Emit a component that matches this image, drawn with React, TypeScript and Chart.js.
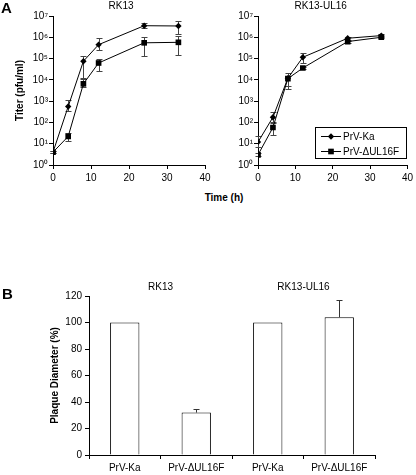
import React, { useEffect, useRef } from 'react';
import { Chart, registerables } from 'chart.js';

Chart.register(...registerables);

const FONT_FAMILY = "'Liberation Sans', Arial, Helvetica, sans-serif";

// ---------- Panel A data ----------
const timeHours = [0, 4, 8, 12, 24, 33];
const timeTicks = [0, 10, 20, 30, 40];
const titerTicks = [1, 10, 100, 1000, 10000, 100000, 1000000, 10000000];
const titerTickLabels = ['10⁰', '10¹', '10²', '10³', '10⁴', '10⁵', '10⁶', '10⁷'];
const seriesNames = ['PrV-Ka', 'PrV-ΔUL16F'];
const panelATitles = ['RK13', 'RK13-UL16'];

// RK13 cells
const rk13Ka = [4, 560, 75000, 450000, 3500000, 3400000];
const rk13KaLo = [3.6, 350, 12000, 250000, 2600000, 1500000];
const rk13KaHi = [4.5, 1150, 130000, 900000, 4800000, 6000000];
const rk13Del = [4, 22, 6500, 62000, 550000, 580000];
const rk13DelLo = [3.6, 13, 4500, 26000, 130000, 150000];
const rk13DelHi = [4.5, 32, 11000, 93000, 1000000, 1150000];

// RK13-UL16 cells
const ul16Ka = [12, 175, 12000, 115000, 900000, 1200000];
const ul16KaLo = [7, 100, 5000, 60000, 750000, 1000000];
const ul16KaHi = [22, 320, 21000, 180000, 1000000, 1500000];
const ul16Del = [3, 58, 11500, 36000, 630000, 1000000];
const ul16DelLo = [2.6, 27, 3900, 32000, 550000, 900000];
const ul16DelHi = [3.5, 92, 15000, 40000, 700000, 1100000];

// ---------- Panel B data ----------
const plaqueLabels = ['PrV-Ka', 'PrV-ΔUL16F', 'PrV-Ka', 'PrV-ΔUL16F'];
const plaqueValues = [100, 32, 100, 104];
const plaqueErrHi = [null, 35, null, 117];
const plaqueGroups = ['RK13', 'RK13-UL16'];

const font10 = { family: FONT_FAMILY, size: 10 };
const font10b = { family: FONT_FAMILY, size: 10, weight: 'bold' as const };

function drawMarker(ctx: CanvasRenderingContext2D, style: string, x: number, y: number, r: number) {
  ctx.beginPath();
  if (style === 'rectRot') {
    ctx.moveTo(x, y - r);
    ctx.lineTo(x + r, y);
    ctx.lineTo(x, y + r);
    ctx.lineTo(x - r, y);
    ctx.closePath();
  } else {
    const s = r * Math.SQRT1_2;
    ctx.rect(x - s, y - s, 2 * s, 2 * s);
  }
  ctx.fill();
}

const errorBarPlugin = {
  id: 'errorBars',
  beforeDatasetsDraw(chart: any) {
    if (chart.config.type !== 'line') return;
    drawErrors(chart);
  },
  afterDatasetsDraw(chart: any) {
    if (chart.config.type !== 'bar') return;
    drawErrors(chart);
  },
};

function drawErrors(chart: any) {
  const ctx = chart.ctx as CanvasRenderingContext2D;
  const yScale = chart.scales.y;
  const cap = 3;
  chart.data.datasets.forEach((ds: any, di: number) => {
    const hi = ds.errHi as (number | null)[] | undefined;
    const lo = ds.errLo as (number | null)[] | undefined;
    if (!hi) return;
    const meta = chart.getDatasetMeta(di);
    ctx.save();
    ctx.strokeStyle = ds.errColor || '#333';
    ctx.lineWidth = 1;
    meta.data.forEach((el: any, i: number) => {
      if (hi[i] == null) return;
      const x = Math.round(el.x) + 0.5;
      const yHi = Math.round(yScale.getPixelForValue(hi[i])) + 0.5;
      const yLo = lo && lo[i] != null ? Math.round(yScale.getPixelForValue(lo[i])) + 0.5 : el.y;
      ctx.beginPath();
      ctx.moveTo(x, yLo);
      ctx.lineTo(x, yHi);
      ctx.moveTo(x - cap, yHi);
      ctx.lineTo(x + cap, yHi);
      if (lo && lo[i] != null) {
        ctx.moveTo(x - cap, yLo);
        ctx.lineTo(x + cap, yLo);
      }
      ctx.stroke();
    });
    ctx.restore();
  });
}

function titlePlugin(text: string, dx: number) {
  return {
    id: 'panelTitle',
    afterDraw(chart: any) {
      const { ctx, chartArea } = chart;
      ctx.save();
      ctx.font = `10px ${FONT_FAMILY}`;
      ctx.fillStyle = '#000';
      ctx.textAlign = 'center';
      ctx.textBaseline = 'middle';
      ctx.fillText(text, (chartArea.left + chartArea.right) / 2 + dx, chartArea.top - 10);
      ctx.restore();
    },
  };
}

const legendBoxPlugin = {
  id: 'legendBox',
  afterDraw(chart: any) {
    const { ctx, chartArea } = chart;
    const w = 91;
    const h = 31;
    const x0 = Math.round(chartArea.right - 1 - w);
    const y0 = Math.round(chartArea.bottom - 7 - h);
    ctx.save();
    ctx.fillStyle = '#fff';
    ctx.fillRect(x0, y0, w, h);
    ctx.strokeStyle = '#000';
    ctx.lineWidth = 1;
    ctx.strokeRect(x0 + 0.5, y0 + 0.5, w, h);
    chart.data.datasets.forEach((ds: any, i: number) => {
      const y = y0 + 9 + i * 15;
      ctx.strokeStyle = '#000';
      ctx.beginPath();
      ctx.moveTo(x0 + 6, y + 0.5);
      ctx.lineTo(x0 + 26, y + 0.5);
      ctx.stroke();
      ctx.fillStyle = '#000';
      drawMarker(ctx, ds.pointStyle, x0 + 16, y + 0.5, ds.pointRadius);
      ctx.font = `10px ${FONT_FAMILY}`;
      ctx.textAlign = 'left';
      ctx.textBaseline = 'middle';
      ctx.fillText(ds.label, x0 + 28, y + 1);
    });
    ctx.restore();
  },
};

function groupLabelPlugin() {
  return {
    id: 'groupLabels',
    afterDraw(chart: any) {
      const { ctx, chartArea } = chart;
      const xs = chart.scales.x;
      ctx.save();
      ctx.font = `10px ${FONT_FAMILY}`;
      ctx.fillStyle = '#000';
      ctx.textAlign = 'center';
      ctx.textBaseline = 'middle';
      plaqueGroups.forEach((g, gi) => {
        const a = xs.getPixelForValue(gi * 2);
        const b = xs.getPixelForValue(gi * 2 + 1);
        ctx.fillText(g, (a + b) / 2, chartArea.top - 9);
      });
      ctx.restore();
    },
  };
}

const axisGrid = { display: true, drawOnChartArea: false, drawTicks: true, tickLength: 4, color: '#000', tickColor: '#000', lineWidth: 1 };
const axisBorder = { display: true, color: '#000', width: 1 };

function titerConfig(p: {
  title: string; dx: number; ka: number[]; kaLo: number[]; kaHi: number[];
  del: number[]; delLo: number[]; delHi: number[]; yWidth: number; yTitle?: string;
  padRight: number; legend: boolean;
}): any {
  const plugins: any[] = [errorBarPlugin, titlePlugin(p.title, p.dx)];
  if (p.legend) plugins.push(legendBoxPlugin);
  return {
    type: 'line',
    data: {
      datasets: [
        {
          label: seriesNames[0],
          data: timeHours.map((t, i) => ({ x: t, y: p.ka[i] })),
          errLo: p.kaLo, errHi: p.kaHi, errColor: '#444',
          borderColor: '#000', backgroundColor: '#000', borderWidth: 1,
          pointStyle: 'rectRot', pointRadius: 3.2, pointBorderWidth: 0,
          pointBackgroundColor: '#000', pointBorderColor: '#000', tension: 0, fill: false,
        },
        {
          label: seriesNames[1],
          data: timeHours.map((t, i) => ({ x: t, y: p.del[i] })),
          errLo: p.delLo, errHi: p.delHi, errColor: '#444',
          borderColor: '#000', backgroundColor: '#000', borderWidth: 1,
          pointStyle: 'rect', pointRadius: 4, pointBorderWidth: 0,
          pointBackgroundColor: '#000', pointBorderColor: '#000', tension: 0, fill: false,
        },
      ],
    },
    options: {
      responsive: false,
      animation: false,
      devicePixelRatio: 1,
      layout: { padding: { left: 0, right: p.padRight, top: 16, bottom: 0 } },
      plugins: { legend: { display: false }, tooltip: { enabled: false }, title: { display: false } },
      scales: {
        x: {
          type: 'linear', min: 0, max: 40,
          afterBuildTicks: (s: any) => { s.ticks = timeTicks.map((v) => ({ value: v })); },
          afterFit: (s: any) => { s.height = 20; },
          ticks: { font: font10, color: '#000', padding: 3, maxRotation: 0 },
          grid: axisGrid, border: axisBorder,
        },
        y: {
          type: 'logarithmic', min: 1, max: 10000000,
          afterBuildTicks: (s: any) => { s.ticks = titerTicks.map((v) => ({ value: v })); },
          afterFit: (s: any) => { s.width = p.yWidth; },
          ticks: {
            font: font10, color: '#000', padding: 1,
            callback: (v: any) => { const k = titerTicks.indexOf(Number(v)); return k >= 0 ? titerTickLabels[k] : ''; },
          },
          grid: axisGrid, border: axisBorder,
          title: { display: !!p.yTitle, text: p.yTitle || '', font: font10b, color: '#000', padding: { top: 14, bottom: 0 } },
        },
      },
    },
    plugins,
  };
}

function plaqueConfig(): any {
  return {
    type: 'bar',
    data: {
      labels: plaqueLabels,
      datasets: [
        {
          label: 'Plaque Diameter',
          data: plaqueValues,
          errHi: plaqueErrHi, errColor: '#333',
          backgroundColor: '#fff', borderColor: '#000', borderWidth: 1,
          barPercentage: 0.41, categoryPercentage: 1,
        },
      ],
    },
    options: {
      responsive: false,
      animation: false,
      devicePixelRatio: 1,
      layout: { padding: { left: 0, right: 41, top: 24, bottom: 0 } },
      plugins: { legend: { display: false }, tooltip: { enabled: false } },
      scales: {
        x: {
          type: 'category',
          afterFit: (s: any) => { s.height = 20; },
          ticks: { font: font10, color: '#000', padding: 3, maxRotation: 0, autoSkip: false },
          grid: { ...axisGrid, offset: true }, border: axisBorder,
        },
        y: {
          min: 0, max: 120,
          afterFit: (s: any) => { s.width = 89; },
          ticks: { stepSize: 20, font: font10, color: '#000', padding: 3 },
          grid: axisGrid, border: axisBorder,
          title: { display: true, text: 'Plaque Diameter (%)', font: font10b, color: '#000', padding: { top: 49, bottom: 0 } },
        },
      },
    },
    plugins: [errorBarPlugin, groupLabelPlugin()],
  };
}

function ChartCanvas(props: { left: number; top: number; width: number; height: number; make: () => any }) {
  const ref = useRef<HTMLCanvasElement>(null);
  useEffect(() => {
    const chart = new Chart(ref.current as HTMLCanvasElement, props.make());
    return () => chart.destroy();
  }, []);
  return (
    <canvas
      ref={ref}
      width={props.width}
      height={props.height}
      style={{ position: 'absolute', left: props.left, top: props.top, width: props.width, height: props.height }}
    />
  );
}

export default function App() {
  const label: React.CSSProperties = { position: 'absolute', fontFamily: FONT_FAMILY, color: '#000', whiteSpace: 'nowrap' };
  return (
    <div style={{ position: 'absolute', left: 0, top: 0, width: 416, height: 475, background: '#fff', overflow: 'hidden' }}>
      <ChartCanvas
        left={0} top={0} width={220} height={185}
        make={() => titerConfig({
          title: panelATitles[0], dx: -8, ka: rk13Ka, kaLo: rk13KaLo, kaHi: rk13KaHi,
          del: rk13Del, delLo: rk13DelLo, delHi: rk13DelHi, yWidth: 53, yTitle: 'Titer (pfu/ml)',
          padRight: 15, legend: false,
        })}
      />
      <ChartCanvas
        left={210} top={0} width={206} height={185}
        make={() => titerConfig({
          title: panelATitles[1], dx: -12, ka: ul16Ka, kaLo: ul16KaLo, kaHi: ul16KaHi,
          del: ul16Del, delLo: ul16DelLo, delHi: ul16DelHi, yWidth: 48,
          padRight: 7, legend: true,
        })}
      />
      <ChartCanvas left={0} top={272} width={416} height={203} make={plaqueConfig} />
      <div style={{ ...label, left: 1, top: 0, fontSize: 15, lineHeight: '15px', fontWeight: 'bold' }}>A</div>
      <div style={{ ...label, left: 2, top: 286, fontSize: 15, lineHeight: '15px', fontWeight: 'bold' }}>B</div>
      <div style={{ ...label, left: 174, top: 192, width: 100, textAlign: 'center', fontSize: 10, lineHeight: '12px', fontWeight: 'bold' }}>Time (h)</div>
    </div>
  );
}
